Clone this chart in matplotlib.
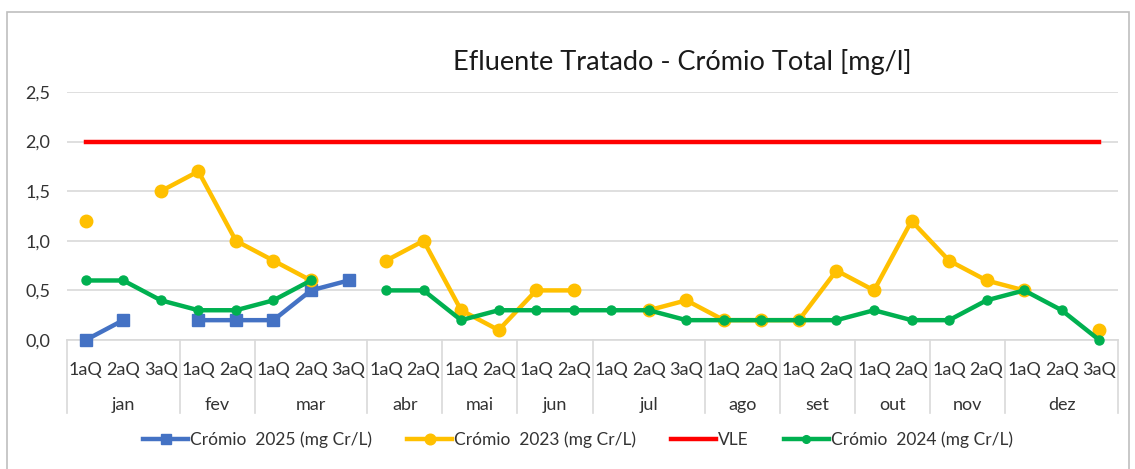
import numpy as np
import matplotlib
matplotlib.use("Agg")
import matplotlib.pyplot as plt
import matplotlib.transforms as mtransforms
from matplotlib.patches import Rectangle

plt.rcParams['font.family'] = ['Lato', 'DejaVu Sans']

nan = np.nan
months = ["jan", "fev", "mar", "abr", "mai", "jun", "jul", "ago", "set", "out", "nov", "dez"]
month_sizes = [3, 2, 3, 2, 2, 2, 3, 2, 2, 2, 2, 3]
quinz = ["1aQ", "2aQ", "3aQ"]

cr2025 = [0.0, 0.2, nan, 0.2, 0.2, 0.2, 0.5, 0.6] + [nan] * 20
cr2023 = [1.2, nan, 1.5, 1.7, 1.0, 0.8, 0.6, nan, 0.8, 1.0, 0.3, 0.1, 0.5, 0.5,
          nan, 0.3, 0.4, 0.2, 0.2, 0.2, 0.7, 0.5, 1.2, 0.8, 0.6, 0.5, nan, 0.1]
vle = [2.0] * 28
cr2024 = [0.6, 0.6, 0.4, 0.3, 0.3, 0.4, 0.6, nan, 0.5, 0.5, 0.2, 0.3, 0.3, 0.3,
          0.3, 0.3, 0.2, 0.2, 0.2, 0.2, 0.2, 0.3, 0.2, 0.2, 0.4, 0.5, 0.3, 0.0]

labels_q = []
for n in month_sizes:
    labels_q += quinz[:n]
x = np.arange(len(labels_q))

W, H = 1135, 469
fig = plt.figure(figsize=(W / 100, H / 100), dpi=100)
ax = fig.add_axes([67 / W, 1 - 340 / H, (1118 - 67) / W, (340 - 92) / H])

txt_col = "#333333"
ax.plot(x, cr2025, color="#4472C4", lw=3.2, marker="s", ms=8.5, label="Crómio  2025 (mg Cr/L)", zorder=3, clip_on=False)
ax.plot(x, cr2023, color="#FFC000", lw=3.2, marker="o", ms=9, label="Crómio  2023 (mg Cr/L)", zorder=3, clip_on=False)
ax.plot(x, vle, color="#FF0000", lw=3.2, label="VLE", zorder=3)
ax.plot(x, cr2024, color="#00B050", lw=3.2, marker="o", ms=6.5, label="Crómio  2024 (mg Cr/L)", zorder=4, clip_on=False)

ax.set_xlim(-0.5, len(x) - 0.5)
ax.set_ylim(0, 2.5)
ax.set_yticks(np.arange(0, 2.51, 0.5))
ax.set_yticklabels([f"{v:.1f}".replace(".", ",") for v in np.arange(0, 2.51, 0.5)])
ax.tick_params(axis="y", length=0, pad=12, labelsize=13, labelcolor=txt_col)
ax.grid(axis="y", color="#D9D9D9", lw=1.2)
ax.set_axisbelow(True)
for s in ["top", "right", "left"]:
    ax.spines[s].set_visible(False)
ax.spines["bottom"].set_color("#D9D9D9")
ax.spines["bottom"].set_linewidth(1.2)
ax.set_xticks([])

trans = mtransforms.blended_transform_factory(ax.transData, ax.transAxes)
for xi, lab in zip(x, labels_q):
    ax.text(xi, -0.12, lab, transform=trans, ha="center", va="center", fontsize=13, color=txt_col)
start = 0
bounds = [-0.5]
for m, n in zip(months, month_sizes):
    center = start + (n - 1) / 2
    ax.text(center, -0.262, m, transform=trans, ha="center", va="center", fontsize=13, color=txt_col)
    start += n
    bounds.append(start - 0.5)
for b in bounds:
    ax.plot([b, b], [0, -0.294], transform=trans, color="#D9D9D9", lw=1.2, clip_on=False)

fig.text(682 / W, 1 - 62 / H, "Efluente Tratado - Crómio Total [mg/l]", ha="center", va="center",
         fontsize=19.5, color="#1a1a1a")

leg = ax.legend(loc="center", bbox_to_anchor=(578 / W, 1 - 440 / H), bbox_transform=fig.transFigure,
                ncol=4, frameon=False, fontsize=12.5, handlelength=2.6, columnspacing=2.0,
                handletextpad=0.12, labelcolor=txt_col, markerscale=0.85)

fig.patches.append(Rectangle((7 / W, -0.05), (1129 - 7) / W, 1.05 - 12 / H, transform=fig.transFigure,
                             fill=False, edgecolor="#BFBFBF", lw=1.2))

fig.savefig("out.png", dpi=100)
